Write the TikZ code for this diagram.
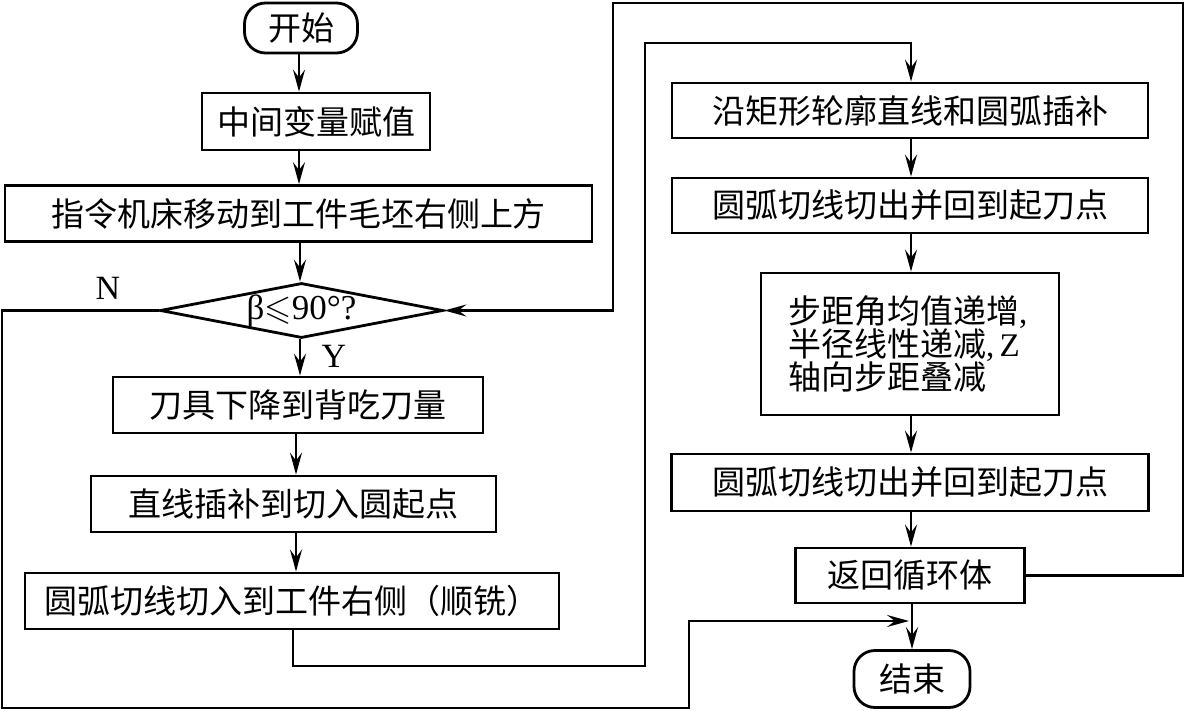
\documentclass[tikz,border=0pt]{standalone}
\usepackage{fontspec}
\usepackage{amssymb}
\setmainfont{Liberation Serif}
\newfontfamily\cjk{Noto Sans CJK SC}
\usetikzlibrary{arrows.meta,shapes.geometric}
\begin{document}
\begin{tikzpicture}[x=1pt,y=-1pt,
  box/.style={draw, line width=2.8pt, inner sep=0pt, font=\cjk\fontsize{33}{33}\selectfont},
  term/.style={box, rounded corners=21pt},
  flow/.style={line width=2.6pt, -{Stealth[length=22pt,width=12pt,inset=8pt]}},
  lbl/.style={inner sep=0pt, font=\rmfamily\fontsize{34}{36}\selectfont}
]
\useasboundingbox (0,0) rectangle (1186,711);

% left column
\node[term, minimum width=113pt, minimum height=50pt] (start) at (301,28) {开始};
\node[box, minimum width=228pt, minimum height=57pt] (b1) at (316,121.5) {中间变量赋值};
\node[box, minimum width=587pt, minimum height=56pt] (b2) at (298.5,213.5) {指令机床移动到工件毛坯右侧上方};
\node[box, diamond, aspect=5, minimum width=283pt, minimum height=55pt,
      font=\rmfamily\fontsize{35}{36}\selectfont] (d) at (301.5,310.5) {β$\leqslant$90°?};
\node[box, minimum width=370pt, minimum height=56pt] (b3) at (298,405) {刀具下降到背吃刀量};
\node[box, minimum width=405pt, minimum height=56pt] (b4) at (293.5,504) {直线插补到切入圆起点};
\node[box, minimum width=534pt, minimum height=56pt] (b5) at (292,601) {圆弧切线切入到工件右侧（顺铣）};

% right column
\node[box, minimum width=476pt, minimum height=55pt] (r1) at (910,110.5) {沿矩形轮廓直线和圆弧插补};
\node[box, minimum width=476pt, minimum height=55pt] (r2) at (910,205.5) {圆弧切线切出并回到起刀点};
\node[box, minimum width=298pt, minimum height=142pt, text width=244pt, align=left] (r3) at (910,344)
  {步距角均值递增{\rmfamily,}\\半径线性递减{\rmfamily,\,Z}\\轴向步距叠减};
\node[box, minimum width=477pt, minimum height=57pt] (r4) at (910,482.5) {圆弧切线切出并回到起刀点};
\node[box, minimum width=229pt, minimum height=55pt] (r5) at (910,575.5) {返回循环体};
\node[term, minimum width=116pt, minimum height=57pt] (end) at (912,679) {结束};

% labels
\node[lbl] (lN) at (108,288) {N};
\node[lbl] (lY) at (334,356) {Y};

% loop coordinates
\coordinate (c1) at (293,666);
\coordinate (c2) at (645,666);
\coordinate (c3) at (645,43);
\coordinate (n1) at (2,708);
\coordinate (n2) at (689,621);
\coordinate (rt) at (1183,3);
\coordinate (lt) at (613,310.5);
\coordinate (j) at (912,621);

% straight arrows
\draw[flow] (start.south -| 299,0) -- (299,0 |- b1.north);
\draw[flow] (b1.south -| 299,0) -- (299,0 |- b2.north);
\draw[flow] (b2.south -| 300,0) -- (300,0 |- d.north);
\draw[flow] (d.south -| 300,0) -- (300,0 |- b3.north);
\draw[flow] (b3.south -| 296,0) -- (296,0 |- b4.north);
\draw[flow] (b4.south -| 296,0) -- (296,0 |- b5.north);
\draw[flow] (r1.south -| 911,0) -- (911,0 |- r2.north);
\draw[flow] (r2.south -| 911,0) -- (911,0 |- r3.north);
\draw[flow] (r3.south -| 911,0) -- (911,0 |- r4.north);
\draw[flow] (r4.south -| 911,0) -- (911,0 |- r5.north);
\draw[flow] (r5.south -| end.north) -- (end.north);

% loops
\draw[flow] (b5.south -| c1) -- (c1) -- (c2) -- (c3) -| (r1.north -| 911,0);
\draw[flow] (d.west) -| (n1) -| (n2) -- ([xshift=-3pt]j);
\draw[flow] (r5.east) -| (rt) -| (lt) -- (d.east);
\end{tikzpicture}
\end{document}
